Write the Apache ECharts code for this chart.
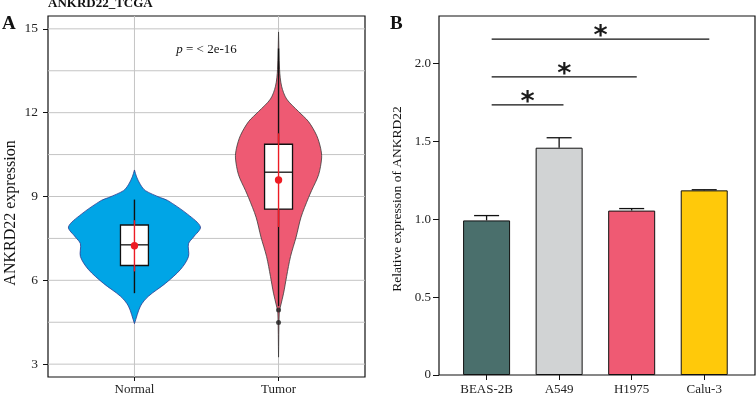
<!DOCTYPE html>
<html>
<head>
<meta charset="utf-8">
<script src="https://cdn.jsdelivr.net/npm/echarts@6/dist/echarts.min.js"></script>
<style>
  html, body { margin: 0; padding: 0; background: #fff; }
  #chart { width: 756px; height: 396px; }
</style>
</head>
<body>
<div id="chart"></div>
<script>
// ---- panel A : ANKRD22_TCGA violin ----
const groups = ['Normal', 'Tumor']
// violin outline: expression value -> half width (category units)
const normalY = [9.95, 9.7, 9.42, 9.21, 8.96, 8.86, 8.36, 7.91, 7.55, 7.31, 6.85, 6.39, 5.89, 5.43, 5.08, 4.45]
const normalW = [0, 0.015, 0.042, 0.076, 0.18, 0.23, 0.37, 0.458, 0.41, 0.375, 0.375, 0.32, 0.215, 0.097, 0.042, 0]
const tumorY = [14.89, 13.55, 12.95, 12.49, 12.04, 11.68, 11.19, 10.73, 10.38, 9.78, 9.21, 8.96, 8.26, 7.55, 6.85, 6.14, 5.54, 5.08, 4.87, 3.25]
const tumorW = [0, 0.007, 0.021, 0.056, 0.139, 0.208, 0.264, 0.292, 0.299, 0.278, 0.229, 0.208, 0.156, 0.122, 0.083, 0.056, 0.035, 0.014, 0.005, 0]
const boxLow = [5.54, 5.07]
const boxQ1 = [6.53, 8.55]
const boxMed = [7.27, 9.87]
const boxQ3 = [7.98, 10.87]
const boxHigh = [8.89, 14.3]
const means = [7.24, 9.59]
const sdLow = [6.32, 7.91]
const sdHigh = [8.15, 11.26]
const outliers = [[2, 4.94], [2, 4.49]]
const yTicksA = [3, 6, 9, 12, 15]
const yGridA = [3, 4.5, 6, 7.5, 9, 10.5, 12, 13.5, 15]
const pLabelPos = [1.5, 14.26]

// ---- panel B : relative expression bars ----
const cellLines = ['BEAS-2B', 'A549', 'H1975', 'Calu-3']
const relExpr = [0.993, 1.46, 1.056, 1.186]
const relUpper = [1.024, 1.524, 1.069, 1.19]
const yTicksB = [0, 0.5, 1, 1.5, 2]
const sigFrom = [1.07, 1.07, 1.07]
const sigTo = [2.06, 3.07, 4.07]
const sigY = [1.735, 1.915, 2.158]

// axis ranges
const xMinA = 0.4, xMaxA = 2.6, yMinA = 2.54, yMaxA = 15.46
const xMinB = 0.344, xMaxB = 4.7, yMaxB = 2.306

const serif = 'Liberation Serif'
const violinFill = ['#00a5e6', '#ee5a73']
const violinEdge = ['#2b3a8f', '#3a3a3a']
const barColors = ['#4a6f6c', '#d1d3d4', '#ef5a73', '#ffc90a']
const red = '#ed1c24'
const gridGrey = '#c4c4c4'

const line = (p1, p2, stroke, lw) => ({
  type: 'line',
  shape: { x1: p1[0], y1: p1[1], x2: p2[0], y2: p2[1] },
  style: { stroke: stroke, lineWidth: lw }
})

const renderViolin = (params, api) => {
  const i = params.dataIndex
  const x = api.value(0)
  const ys = i === 0 ? normalY : tumorY
  const ws = i === 0 ? normalW : tumorW
  const pts = []
  ys.forEach((y, k) => pts.push(api.coord([x + ws[k], y])))
  for (let k = ys.length - 1; k >= 0; k--) pts.push(api.coord([x - ws[k], ys[k]]))
  const half = 0.097
  const tl = api.coord([x - half, boxQ3[i]])
  const br = api.coord([x + half, boxQ1[i]])
  const c = (v) => api.coord([x, v])
  const mp = c(means[i])
  return {
    type: 'group',
    children: [
      { type: 'polygon', shape: { points: pts, smooth: 0.3 }, style: { fill: violinFill[i], stroke: violinEdge[i], lineWidth: 0.8 } },
      line(c(boxLow[i]), c(boxHigh[i]), '#111', 1.4),
      { type: 'rect', shape: { x: tl[0], y: tl[1], width: br[0] - tl[0], height: br[1] - tl[1] }, style: { fill: '#fff', stroke: '#111', lineWidth: 1.3 } },
      line(api.coord([x - half, boxMed[i]]), api.coord([x + half, boxMed[i]]), '#111', 1.3),
      line(c(sdLow[i]), c(sdHigh[i]), red, 1.4),
      { type: 'circle', shape: { cx: mp[0], cy: mp[1], r: 3.7 }, style: { fill: red } }
    ]
  }
}

const renderHGrid = (params, api) => {
  const v = api.value(1)
  return line(api.coord([xMinA, v]), api.coord([xMaxA, v]), gridGrey, 1)
}

const renderVGrid = (params, api) => {
  const x = api.value(0)
  return line(api.coord([x, yMinA]), api.coord([x, yMaxA]), gridGrey, 1)
}

const renderPLabel = (params, api) => {
  const p = api.coord([api.value(0), api.value(1)])
  return {
    type: 'text',
    x: p[0],
    y: p[1],
    style: {
      text: '{i|p} = < 2e-16',
      rich: { i: { fontStyle: 'italic', fontFamily: serif, fontSize: 13, fill: '#111' } },
      fontFamily: serif,
      fontSize: 13,
      fill: '#111',
      align: 'center',
      verticalAlign: 'middle'
    }
  }
}

const renderErr = (params, api) => {
  const x = api.value(0)
  const base = api.coord([x, api.value(1)])
  const top = api.coord([x, api.value(2)])
  return {
    type: 'group',
    children: [
      line(base, top, '#111', 1.3),
      line([top[0] - 12.5, top[1]], [top[0] + 12.5, top[1]], '#111', 1.3)
    ]
  }
}

const renderSig = (params, api) => {
  const y = api.value(1)
  const p1 = api.coord([api.value(0), y])
  const p2 = api.coord([api.value(2), y])
  return {
    type: 'group',
    children: [
      line(p1, p2, '#111', 1.3),
      {
        type: 'text',
        x: (p1[0] + p2[0]) / 2,
        y: p1[1] - 2,
        style: {
          text: '*',
          fontFamily: 'DejaVu Sans',
          fontWeight: 'bold',
          fontSize: 27,
          fill: '#1a1a1a',
          align: 'center',
          verticalAlign: 'middle'
        }
      }
    ]
  }
}

const chartInstance = echarts.init(document.getElementById('chart'))

const tickStyle = { color: '#111', width: 1 }

const option = {
  backgroundColor: '#fff',
  animation: false,
  textStyle: { fontFamily: serif },
  graphic: [
    { type: 'text', left: 48, top: -3, style: { text: 'ANKRD22_TCGA', fontFamily: serif, fontWeight: 'bold', fontSize: 13, fill: '#111' } },
    { type: 'text', left: 2, top: 15, style: { text: 'A', fontFamily: serif, fontWeight: 'bold', fontSize: 19, fill: '#111' } },
    { type: 'text', left: 390, top: 15, style: { text: 'B', fontFamily: serif, fontWeight: 'bold', fontSize: 19, fill: '#111' } },
    {
      type: 'text', x: 11, y: 213, rotation: Math.PI / 2,
      style: { text: 'ANKRD22 expression', fontFamily: serif, fontSize: 16, fill: '#111', align: 'center', verticalAlign: 'middle' }
    },
    {
      type: 'text', x: 397, y: 199, rotation: Math.PI / 2,
      style: { text: 'Relative expression of ANKRD22', fontFamily: serif, fontSize: 13.5, fill: '#111', align: 'center', verticalAlign: 'middle' }
    }
  ],
  grid: [
    { left: 48, top: 16, right: 391, bottom: 14, show: true, borderColor: '#111', borderWidth: 1.2, backgroundColor: 'transparent' },
    { left: 439, top: 16, right: 1, bottom: 20, show: true, borderColor: '#111', borderWidth: 1.2, backgroundColor: 'transparent' }
  ],
  xAxis: [
    {
      gridIndex: 0,
      type: 'value',
      min: xMinA,
      max: xMaxA,
      axisLine: { show: false },
      axisTick: { show: true, customValues: [1, 2], length: 4, lineStyle: tickStyle },
      axisLabel: {
        customValues: [1, 2],
        formatter: (v) => groups[Math.round(v) - 1],
        fontFamily: serif, fontSize: 13, color: '#222', margin: 6
      },
      splitLine: { show: false }
    },
    {
      gridIndex: 1,
      type: 'value',
      min: xMinB,
      max: xMaxB,
      axisLine: { show: false },
      axisTick: { show: true, customValues: [1, 2, 3, 4], length: 5, lineStyle: tickStyle },
      axisLabel: {
        customValues: [1, 2, 3, 4],
        formatter: (v) => cellLines[Math.round(v) - 1],
        fontFamily: serif, fontSize: 13, color: '#222', margin: 8
      },
      splitLine: { show: false }
    }
  ],
  yAxis: [
    {
      gridIndex: 0,
      type: 'value',
      min: yMinA,
      max: yMaxA,
      axisLine: { show: false },
      axisTick: { show: true, customValues: yTicksA, length: 5, lineStyle: tickStyle },
      axisLabel: { customValues: yTicksA, fontFamily: serif, fontSize: 13.5, color: '#222', margin: 10 },
      splitLine: { show: false }
    },
    {
      gridIndex: 1,
      type: 'value',
      min: 0,
      max: yMaxB,
      axisLine: { show: false },
      axisTick: { show: true, customValues: yTicksB, length: 6, lineStyle: tickStyle },
      axisLabel: {
        customValues: yTicksB,
        formatter: (v) => (v === 0 ? '0' : v.toFixed(1)),
        fontFamily: serif, fontSize: 13, color: '#222', margin: 8
      },
      splitLine: { show: false }
    }
  ],
  series: [
    {
      type: 'custom', xAxisIndex: 0, yAxisIndex: 0, z: 1, silent: true,
      renderItem: renderHGrid,
      data: yGridA.map((v) => [1, v])
    },
    {
      type: 'custom', xAxisIndex: 0, yAxisIndex: 0, z: 1, silent: true,
      renderItem: renderVGrid,
      data: groups.map((g, i) => [i + 1, yMinA])
    },
    {
      type: 'custom', xAxisIndex: 0, yAxisIndex: 0, z: 3,
      renderItem: renderViolin,
      data: groups.map((g, i) => [i + 1, boxMed[i]])
    },
    {
      type: 'scatter', xAxisIndex: 0, yAxisIndex: 0, z: 4,
      symbolSize: 5,
      itemStyle: { color: '#222' },
      data: outliers
    },
    {
      type: 'custom', xAxisIndex: 0, yAxisIndex: 0, z: 4,
      renderItem: renderPLabel,
      data: [pLabelPos]
    },
    {
      type: 'bar', xAxisIndex: 1, yAxisIndex: 1, z: 3,
      barWidth: 47,
      itemStyle: { borderColor: '#111', borderWidth: 1 },
      data: relExpr.map((v, i) => ({ value: [i + 1, v], itemStyle: { color: barColors[i] } }))
    },
    {
      type: 'custom', xAxisIndex: 1, yAxisIndex: 1, z: 4,
      renderItem: renderErr,
      data: relExpr.map((v, i) => [i + 1, v, relUpper[i]])
    },
    {
      type: 'custom', xAxisIndex: 1, yAxisIndex: 1, z: 4,
      renderItem: renderSig,
      data: sigFrom.map((f, i) => [f, sigY[i], sigTo[i]])
    }
  ]
}

chartInstance.setOption(option)
window.addEventListener('resize', () => chartInstance.resize())
</script>
</body>
</html>
